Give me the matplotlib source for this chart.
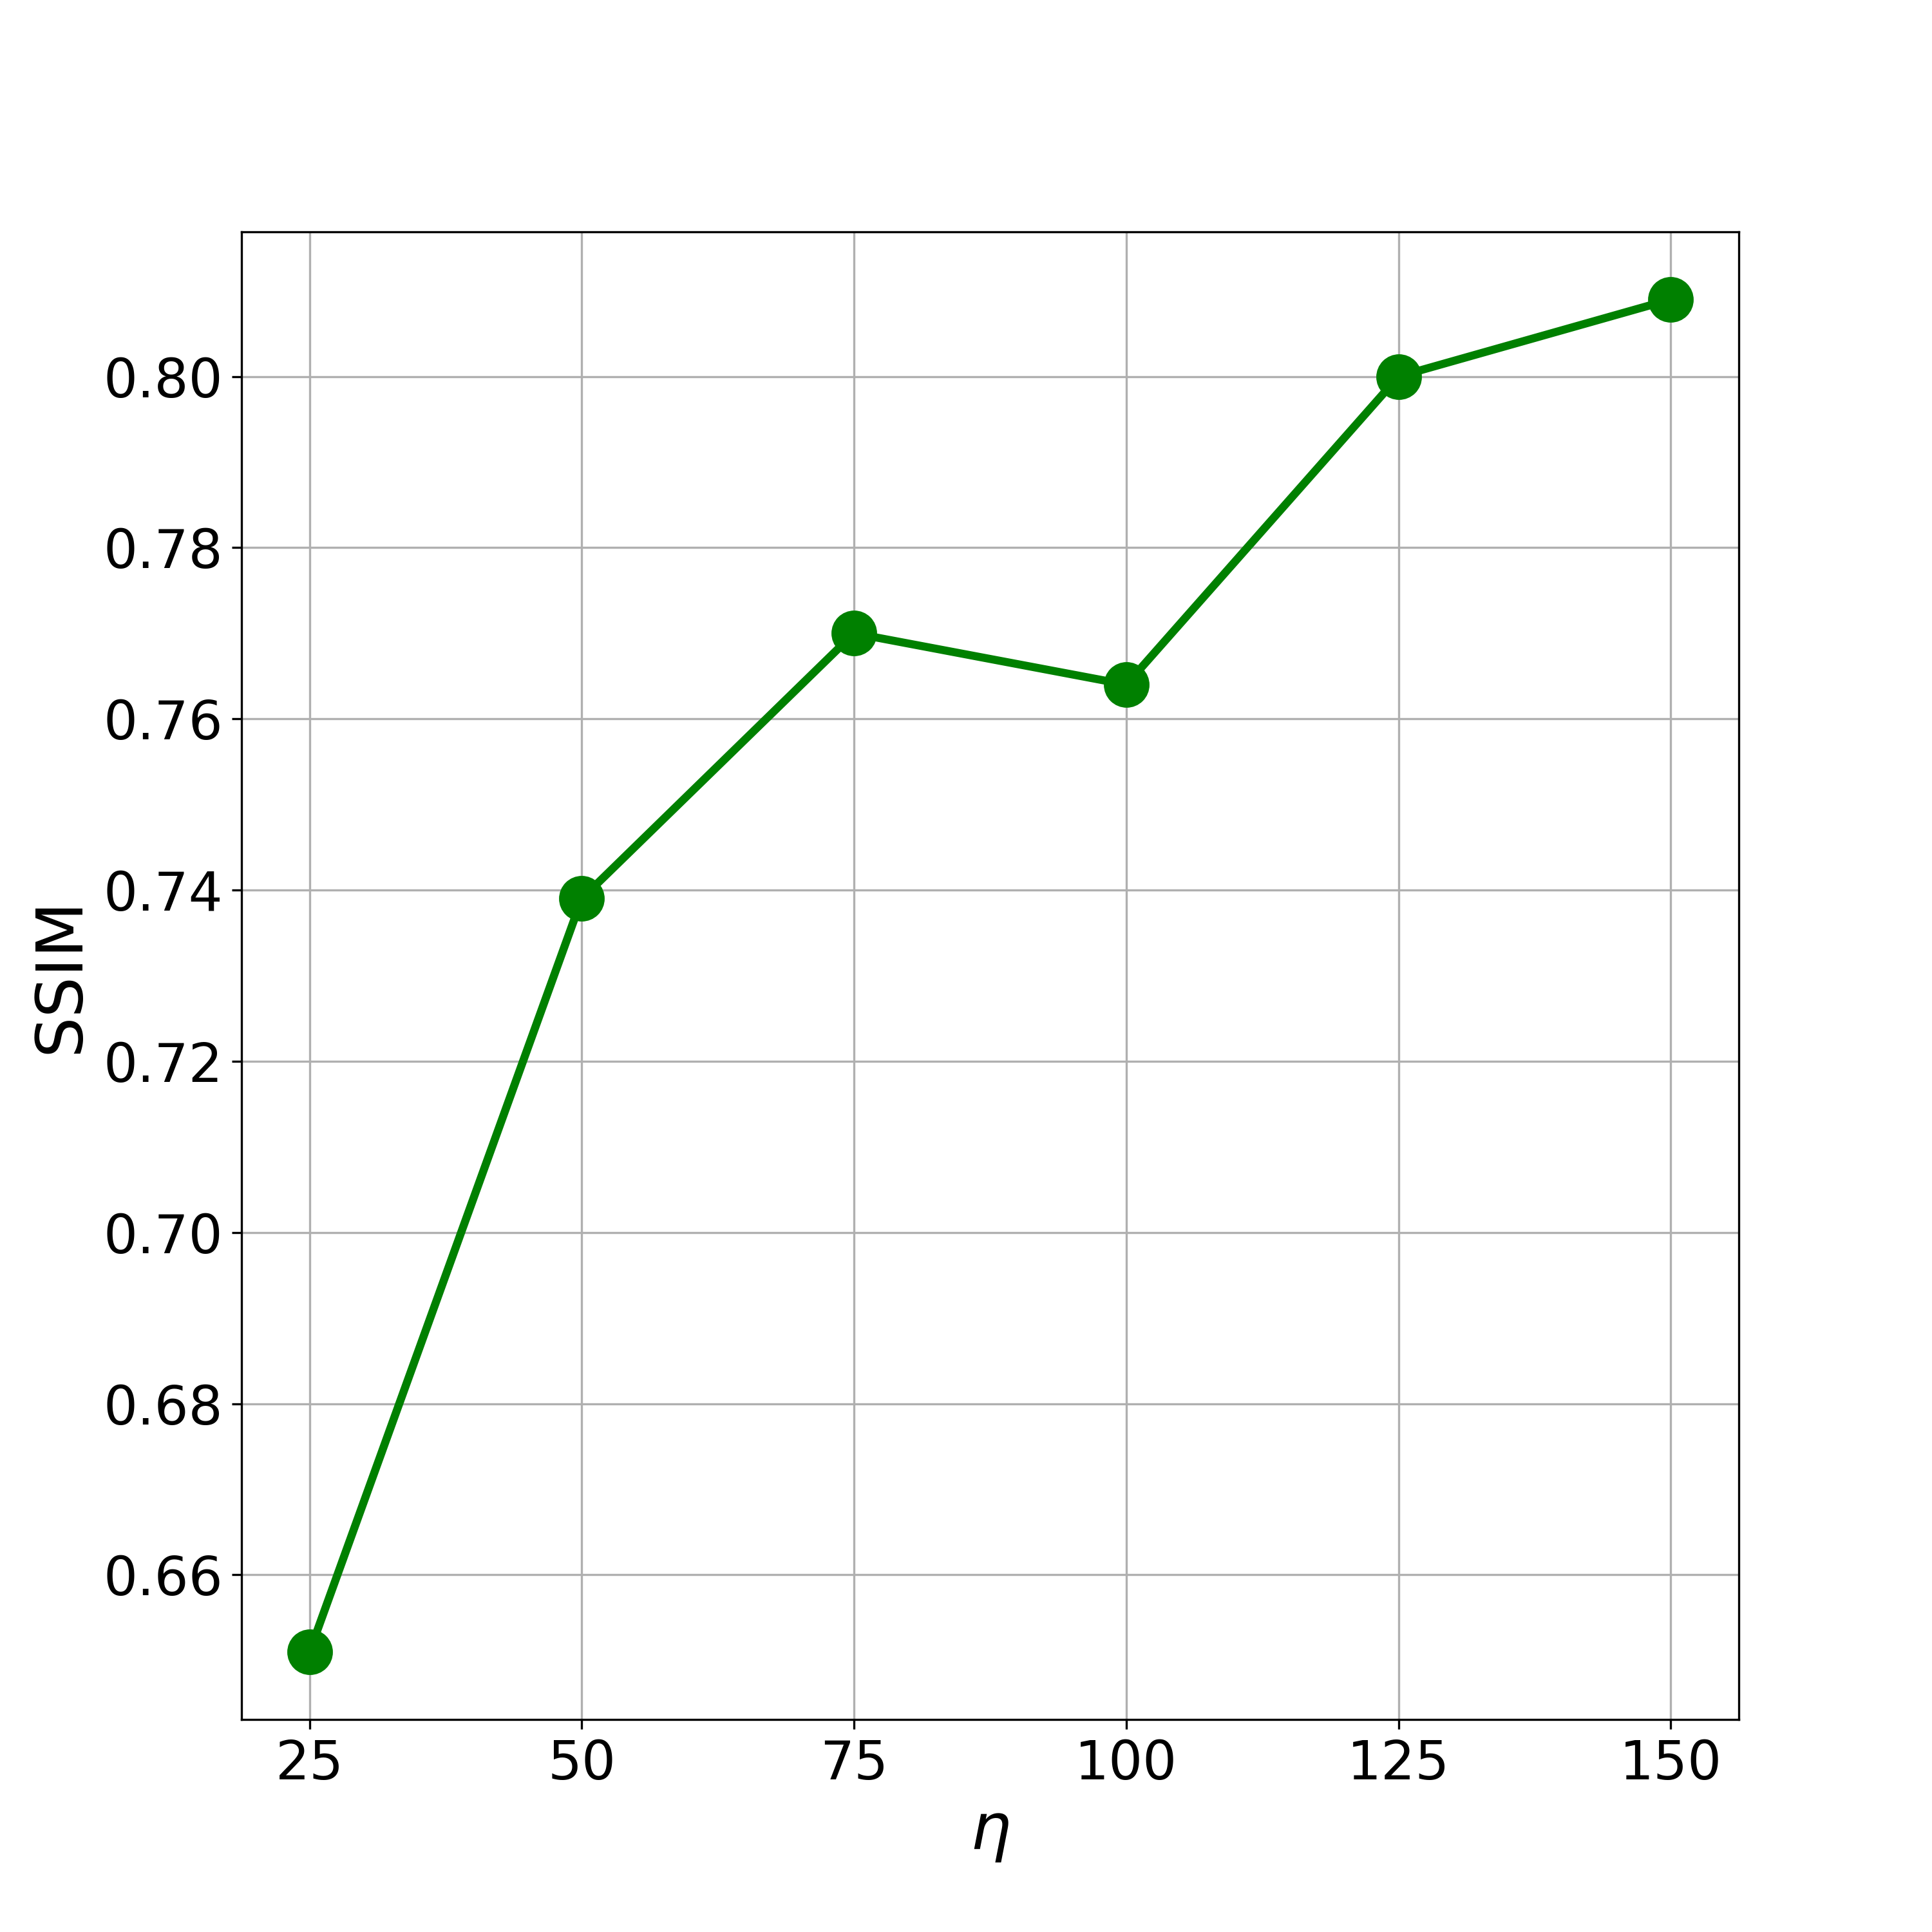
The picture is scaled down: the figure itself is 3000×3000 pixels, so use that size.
import matplotlib
matplotlib.use("Agg")
import matplotlib.pyplot as plt

# eta sweep vs SSIM
eta  = [25, 50, 75, 100, 125, 150]
ssim = [0.651, 0.739, 0.770, 0.764, 0.800, 0.809]

fig, ax = plt.subplots(figsize=(10, 10))
ax.plot(eta, ssim, 'o-', color='green', lw=3, markersize=16)
ax.set_xlabel(r"$\eta$", fontsize=24)
ax.set_ylabel("SSIM", fontsize=24)
ax.set_xticks(eta)
ax.tick_params(axis='both', labelsize=20)
ax.grid(True)

plt.savefig("out.png", dpi=300)
